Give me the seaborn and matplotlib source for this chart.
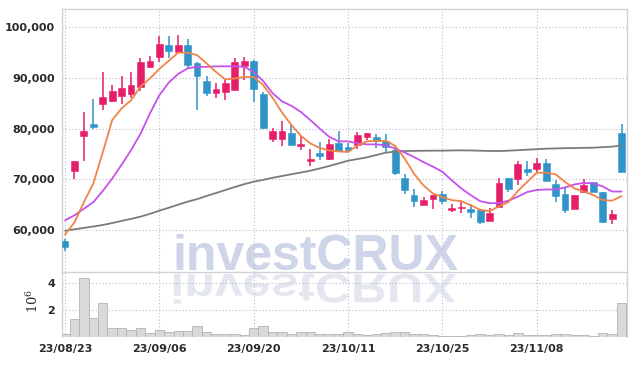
import numpy as np
import pandas as pd
import matplotlib
matplotlib.use("Agg")
import matplotlib.pyplot as plt
import seaborn as sns
from matplotlib import font_manager as fm
from matplotlib.textpath import TextPath
from matplotlib.patches import PathPatch
from matplotlib.transforms import Affine2D

# ---------------- data ----------------
tick_pos = [0, 10, 20, 30, 40, 50]
tick_labels = ["23/08/23", "23/09/06", "23/09/20", "23/10/11", "23/10/25", "23/11/08"]

open_ = [57800, 71700, 78600, 80900, 84900, 85500, 86500, 86900, 88200, 92200,
         94200, 96500, 95200, 96500, 92900, 89400, 87100, 87300, 87700, 92400,
         93300, 86800, 78000, 78000, 79200, 76500, 73700, 75200, 74100, 77200,
         76400, 76700, 78300, 78300, 77500, 75800, 70200, 66900, 64900, 66200,
         67200, 64000, 64300, 64200, 63900, 61800, 64600, 70200, 70000, 72000,
         72000, 73300, 69000, 67100, 64200, 67500, 69400, 67500, 62200, 79200]
high = [58300, 73600, 83300, 85800, 91200, 88700, 90400, 91200, 93900, 94400,
        98200, 98200, 98500, 97600, 93100, 90400, 89100, 89600, 93900, 94100,
        93500, 87300, 80200, 81600, 80700, 78500, 75900, 77300, 77900, 79500,
        77100, 79400, 79200, 79000, 78900, 75900, 71100, 68000, 66500, 67000,
        67700, 65200, 65700, 65100, 63900, 64400, 70300, 70200, 73600, 73600,
        74200, 74100, 69800, 68200, 67000, 70000, 69500, 67600, 64000, 81000]
low = [55900, 70000, 73600, 80000, 83600, 85200, 84800, 86000, 87400, 92000,
       93100, 93900, 95100, 92000, 83700, 86400, 86000, 85600, 87600, 89600,
       85300, 79900, 77400, 76600, 76700, 75800, 72600, 73900, 73900, 75500,
       75400, 75900, 77700, 76100, 75400, 70900, 67200, 64600, 64900, 64200,
       65200, 63600, 63400, 62400, 61100, 61800, 64600, 67500, 68800, 70700,
       71500, 69700, 65500, 63400, 64200, 67500, 67500, 61300, 61100, 71500]
close = [56700, 73600, 79500, 80400, 86300, 87400, 88100, 88600, 93200, 93300,
         96700, 95400, 96500, 92600, 90400, 87100, 87800, 89100, 93100, 93300,
         87900, 80200, 79500, 79500, 76700, 77000, 74000, 74600, 76900, 75600,
         75800, 78700, 79200, 77500, 76400, 71300, 67800, 65700, 65900, 67000,
         65700, 64400, 64500, 63600, 61500, 63400, 69200, 68000, 73100, 71500,
         73300, 69700, 66700, 64000, 67000, 68800, 67500, 61600, 63200, 71500]

ma5 = [59100, 61500, 65500, 69200, 75300, 81700, 84000, 85600, 88300, 89900,
       91800, 93400, 95000, 95000, 94500, 92900, 91200, 89700, 89900, 90200,
       90200, 88600, 86100, 83200, 80700, 78600, 77100, 76200, 75700, 75500,
       75400, 76700, 77500, 77600, 77600, 76600, 74100, 71100, 68800, 67200,
       66500, 65900, 65700, 64900, 64000, 63700, 64700, 65500, 67700, 69500,
       71300, 71300, 71000, 69500, 68200, 67600, 66900, 65900, 65800, 66700]
ma10 = [61900, 62900, 64200, 65500, 67700, 70150, 72900, 75750, 79000, 83000,
        86600, 89100, 90800, 91900, 92200, 92200, 92300, 92300, 92300, 92200,
        91200, 89400, 87000, 85400, 84500, 83300, 81700, 80000, 78400, 77500,
        77500, 77100, 76900, 76900, 76700, 76100, 75300, 74400, 73400, 72500,
        71500, 69800, 68200, 66900, 65700, 65300, 65300, 65800, 66600, 67500,
        67900, 68000, 68000, 68400, 69000, 69300, 69200, 68600, 67600, 67600]
ma_long = [59870, 60150, 60420, 60700, 60990, 61380, 61800, 62200, 62640, 63200,
           63820, 64400, 65000, 65600, 66100, 66720, 67300, 67900, 68500, 69050,
           69540, 69900, 70300, 70660, 71000, 71350, 71710, 72150, 72630, 73150,
           73680, 74000, 74350, 74800, 75260, 75460, 75590, 75620, 75640, 75660,
           75660, 75700, 75720, 75700, 75650, 75600, 75590, 75650, 75750, 75850,
           75950, 76050, 76100, 76150, 76180, 76220, 76250, 76350, 76450, 76710]

volume_m = [0.20, 1.30, 4.38, 1.38, 2.50, 0.63, 0.70, 0.50, 0.70, 0.30,
            0.55, 0.35, 0.48, 0.43, 0.78, 0.35, 0.25, 0.25, 0.25, 0.18,
            0.63, 0.78, 0.35, 0.35, 0.20, 0.35, 0.35, 0.25, 0.25, 0.20,
            0.35, 0.20, 0.18, 0.20, 0.30, 0.35, 0.35, 0.20, 0.20, 0.13,
            0.10, 0.10, 0.10, 0.13, 0.20, 0.13, 0.25, 0.13, 0.30, 0.13,
            0.13, 0.13, 0.20, 0.20, 0.15, 0.13, 0.10, 0.33, 0.20, 2.50]

price_ticks = [60000, 70000, 80000, 90000, 100000]
vol_ticks = [2, 4]

# ---------------- style ----------------
RED = "#e61e6a"
BLUE = "#2f95c8"
ORANGE = "#ef8447"
PURPLE = "#c651ec"
GRAY = "#7b7b7b"
GRID = "#b9bdcc"
SPINE = "#d2d2d2"
TXT = "#2a2a2a"

sns.set_theme(style="white")
avail = {f.name for f in fm.fontManager.ttflist}
narrow = "Liberation Sans Narrow" in avail
tick_font = "Liberation Sans Narrow" if narrow else "DejaVu Sans"
plt.rcParams["font.family"] = [tick_font, "DejaVu Sans"]
plt.rcParams["mathtext.fontset"] = "dejavuserif"
tsize = 10.5 if narrow else 8.0

W, H = 635, 366
fig = plt.figure(figsize=(W / 100, H / 100), dpi=100)
fig.patch.set_facecolor("white")
L, R = 62 / W, 627 / W
ax = fig.add_axes([L, 1 - 272 / H, R - L, (272 - 9) / H])
axv = fig.add_axes([L, 1 - 337 / H, R - L, (337 - 272) / H], sharex=ax)
for a in (ax, axv):
    a.set_facecolor("none")

df = pd.DataFrame({"idx": np.arange(len(close)), "open": open_, "high": high,
                   "low": low, "close": close, "ma5": ma5, "ma10": ma10,
                   "ma_long": ma_long, "vol": volume_m})
up = df["close"] >= df["open"]
cols = np.where(up, RED, BLUE)

# candles
ax.vlines(df["idx"], df["low"], df["high"], colors=cols, linewidth=1.1, zorder=3)
body = np.maximum((df["close"] - df["open"]).abs(), 120)
ax.bar(df["idx"], body, bottom=np.minimum(df["open"], df["close"]), width=0.72,
       color=cols, edgecolor=cols, linewidth=0.4, zorder=4)

# moving averages
sns.lineplot(data=df, x="idx", y="ma_long", color=GRAY, linewidth=1.3, ax=ax, zorder=5)
sns.lineplot(data=df, x="idx", y="ma10", color=PURPLE, linewidth=1.3, ax=ax, zorder=5)
sns.lineplot(data=df, x="idx", y="ma5", color=ORANGE, linewidth=1.3, ax=ax, zorder=6)

# volume
sns.barplot(data=df, x="idx", y="vol", native_scale=True, width=1.0,
            color="#d9d9d9", edgecolor="#b3b3b3", linewidth=0.6, saturation=1,
            errorbar=None, ax=axv, zorder=3)

# axes settings
ax.set_xlim(-0.32, 59.57)
ax.set_ylim(51720, 103610)
axv.set_ylim(0, 4.8)
ax.set_yticks(price_ticks)
ax.set_yticklabels([f"{v:,}" for v in price_ticks])
axv.set_yticks(vol_ticks)
axv.set_yticklabels([str(v) for v in vol_ticks])
axv.set_xticks(tick_pos)
axv.set_xticklabels(tick_labels)
ax.tick_params(axis="x", labelbottom=False, length=0)
for a in (ax, axv):
    a.set_xlabel("")
    a.set_ylabel("")
    a.tick_params(axis="both", length=0, pad=5, labelsize=tsize, labelcolor=TXT)
    for lab in a.get_xticklabels() + a.get_yticklabels():
        lab.set_fontweight("bold")
    a.grid(True, linestyle=(0, (1, 2)), color=GRID, linewidth=0.8)
    a.set_axisbelow(True)
    for s in a.spines.values():
        s.set_color(SPINE)
        s.set_linewidth(1.0)
axv.spines["top"].set_visible(False)
axv.spines["bottom"].set_visible(False)

axv.set_ylabel(r"$10^{6}$", fontsize=9.5, color=TXT, rotation=90)
axv.yaxis.set_label_coords(-0.037, 0.55)

# watermark (text + reflection)
wm_font = "Liberation Sans" if "Liberation Sans" in avail else "DejaVu Sans"
fig.text(315 / W, 1 - 270 / H, "investCRUX", ha="center", va="baseline",
         fontsize=36, fontweight="bold", family=wm_font, color="#cfd5e9", zorder=-1)
tp = TextPath((0, 0), "investCRUX", size=50,
              prop=fm.FontProperties(family=wm_font, weight="bold"))
ext = tp.get_extents()
tr = (Affine2D().translate(-(ext.x0 + ext.width / 2), 0).scale(1, -0.82)
      .translate(315, H - 274).scale(1 / 100) + fig.dpi_scale_trans)
patch = PathPatch(tp, facecolor="#e4e7f0", edgecolor="none", transform=tr, zorder=-1)
fig.add_artist(patch)

fig.savefig("out.png", dpi=100, facecolor="white")
